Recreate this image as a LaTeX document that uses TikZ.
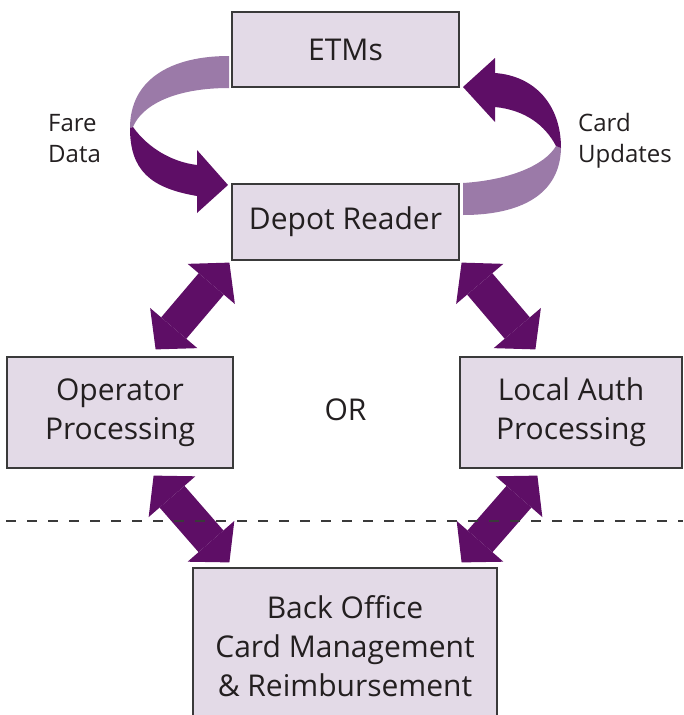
\documentclass[tikz,border=0pt]{standalone}
\usepackage{fontspec}
\setmainfont{Open Sans}
\usetikzlibrary{arrows.meta}
\definecolor{boxfill}{HTML}{E3DAE7}
\definecolor{boxline}{HTML}{3A3A3A}
\definecolor{dpurple}{HTML}{5E0E66}
\definecolor{lpurple}{HTML}{9B7AA8}
\definecolor{txt}{HTML}{231F20}
\tikzset{
  box/.style={draw=boxline, line width=1.2pt, fill=boxfill, align=center, text=txt,
    font=\fontsize{30}{39}\selectfont, inner sep=0pt},
  lbl/.style={align=left, text=txt, font=\fontsize{24}{31}\selectfont, inner sep=0pt, anchor=north west},
  dbl/.style={draw=dpurple, line width=33pt,
    {Triangle[length=28pt,width=62pt,line width=0pt]}-{Triangle[length=28pt,width=62pt,line width=0pt]}},
}
\begin{document}
\begin{tikzpicture}[x=1pt,y=-1pt]
\useasboundingbox (0,0) rectangle (683,715);
% boxes
\node[box, minimum width=227pt, minimum height=75pt] (etm) at (345.5,49.5) {ETMs};
\node[box, minimum width=227pt, minimum height=76pt] (dr) at (345.5,222) {Depot Reader};
\node[box, minimum width=226pt, minimum height=111pt] (op) at (120,412.5) {Operator\\Processing};
\node[box, minimum width=222pt, minimum height=111pt] (la) at (571,412.5) {Local Auth\\Processing};
\node[box, minimum width=304pt, minimum height=157pt] (bo) at (345,646.5) {Back Office\\Card Management\\\&~Reimbursement};
\node[text=txt, font=\fontsize{30}{39}\selectfont, inner sep=0pt] (or) at (345.5,410) {OR};
% labels
\node[lbl] (fare) at (48,114) {Fare\\Data};
\node[lbl] (card) at (578,113) {Card\\Updates};
% left curved arrow (Fare Data)
\fill[lpurple] (229,56) .. controls (170,56) and (130,80) .. (130,128)
  -- (133,127) .. controls (142,105) and (175,88) .. (229,88) -- cycle;
\fill[dpurple] (133,127) .. controls (148,148) and (172,162) .. (197,165)
  -- (197,150) -- (228,185) -- (197,213) -- (197,196)
  .. controls (150,188) and (130,170) .. (130,128) -- cycle;
% right curved arrow (Card Updates)
\fill[lpurple] (463,183) .. controls (510,180) and (545,165) .. (556,146)
  -- (561,148) .. controls (560,195) and (520,215) .. (463,215) -- cycle;
\fill[dpurple] (556,146) .. controls (545,125) and (525,110) .. (495,107)
  -- (495,122) -- (463,87) -- (495,58) -- (495,73)
  .. controls (535,76) and (561,105) .. (561,148) -- cycle;
% double arrows
\draw[dbl] ([shift={(-78,-7)}]op.north east) -- ([shift={(-2,2)}]dr.south west);
\draw[dbl] ([shift={(76,-7)}]la.north west) -- ([shift={(2,2)}]dr.south east);
\draw[dbl] ([shift={(-80,7)}]op.south east) -- ([shift={(37,-5)}]bo.north west);
\draw[dbl] ([shift={(78,7)}]la.south west) -- ([shift={(-36,-5)}]bo.north east);
% dashed line
\draw[draw=boxline, line width=1.4pt, dash pattern=on 10pt off 11pt] (6,521) -- (683,521);
\end{tikzpicture}
\end{document}
